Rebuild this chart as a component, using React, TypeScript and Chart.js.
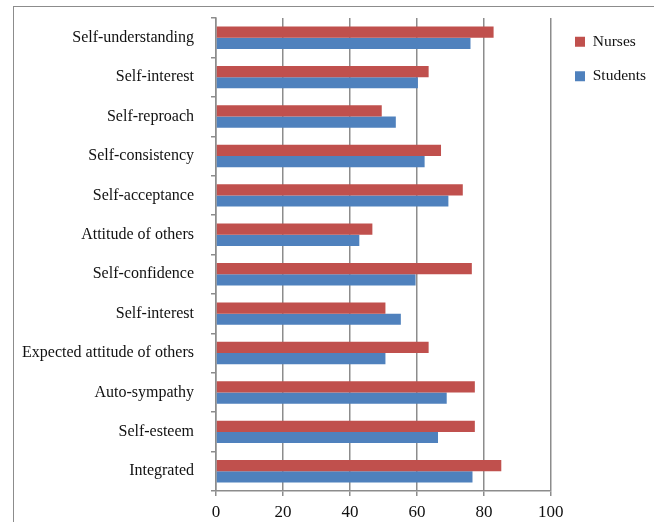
import React, { useEffect, useRef } from "react";
import { Chart, registerables } from "chart.js";

Chart.register(...registerables);

const categories = [
  "Self-understanding",
  "Self-interest",
  "Self-reproach",
  "Self-consistency",
  "Self-acceptance",
  "Attitude of others",
  "Self-confidence",
  "Self-interest",
  "Expected attitude of others",
  "Auto-sympathy",
  "Self-esteem",
  "Integrated",
];
const nurses = [82.9, 63.5, 49.5, 67.2, 73.7, 46.7, 76.4, 50.6, 63.5, 77.3, 77.3, 85.2];
const students = [76.0, 60.3, 53.7, 62.3, 69.4, 42.8, 59.6, 55.2, 50.6, 68.9, 66.3, 76.6];
const xMin = 0;
const xMax = 100;
const xStep = 20;

const FONT = "'Liberation Serif', 'Times New Roman', serif";
const GRID = "#8c8c8c";

const legendShift = {
  id: "legendShift",
  afterLayout(chart: any) {
    const l = chart.legend;
    if (l) {
      const dx = 550 - l.left + 6;
      l.left += dx;
      l.right += dx;
      l.top -= 3;
      l.bottom -= 3;
    }
  },
};

export default function App() {
  const ref = useRef<HTMLCanvasElement | null>(null);
  useEffect(() => {
    if (!ref.current) return;
    const chart = new Chart(ref.current, {
      type: "bar",
      data: {
        labels: categories,
        datasets: [
          {
            label: "Nurses",
            data: nurses,
            backgroundColor: "#C0504D",
            borderWidth: 0,
            categoryPercentage: 0.57,
            barPercentage: 1,
          },
          {
            label: "Students",
            data: students,
            backgroundColor: "#4F81BD",
            borderWidth: 0,
            categoryPercentage: 0.57,
            barPercentage: 1,
          },
        ],
      },
      options: {
        indexAxis: "y",
        animation: false,
        responsive: false,
        layout: { padding: { top: 18, right: 3, left: 0, bottom: 0 } },
        plugins: {
          tooltip: { enabled: false },
          legend: {
            position: "right",
            align: "start",
            labels: {
              boxWidth: 10,
              boxHeight: 10,
              padding: 19,
              color: "#111",
              font: { family: FONT, size: 15.5 },
            },
          },
        },
        scales: {
          x: {
            min: xMin,
            max: xMax,
            ticks: {
              stepSize: xStep,
              color: "#111",
              padding: 6,
              font: { family: FONT, size: 17 },
            },
            grid: { color: GRID, lineWidth: 1.5, tickLength: 5, drawTicks: true },
            border: { display: true, color: GRID, width: 1.5 },
            afterFit: (s: any) => {
              s.height = 31;
            },
          },
          y: {
            ticks: {
              color: "#111",
              padding: 17,
              font: { family: FONT, size: 16 },
            },
            grid: {
              display: true,
              drawOnChartArea: false,
              drawTicks: true,
              tickLength: 5,
              color: GRID,
              lineWidth: 1.5,
              offset: true,
            },
            border: { display: true, color: GRID, width: 1.5 },
            afterFit: (s: any) => {
              s.width = 216;
              s.paddingTop = 0;
              s.paddingBottom = 0;
            },
          },
        },
      },
      plugins: [legendShift],
    } as any);
    return () => chart.destroy();
  }, []);

  return (
    <div style={{ position: "fixed", left: 0, top: 0, width: 654, height: 522, overflow: "hidden", background: "#fff" }}>
      <div
        style={{
          position: "absolute",
          left: 13,
          top: 6,
          width: 700,
          height: 600,
          borderLeft: "1.5px solid #8c8c8c",
          borderTop: "1.5px solid #8c8c8c",
        }}
      />
      <canvas ref={ref} width={654} height={522} style={{ position: "absolute", left: 0, top: 0 }} />
    </div>
  );
}
